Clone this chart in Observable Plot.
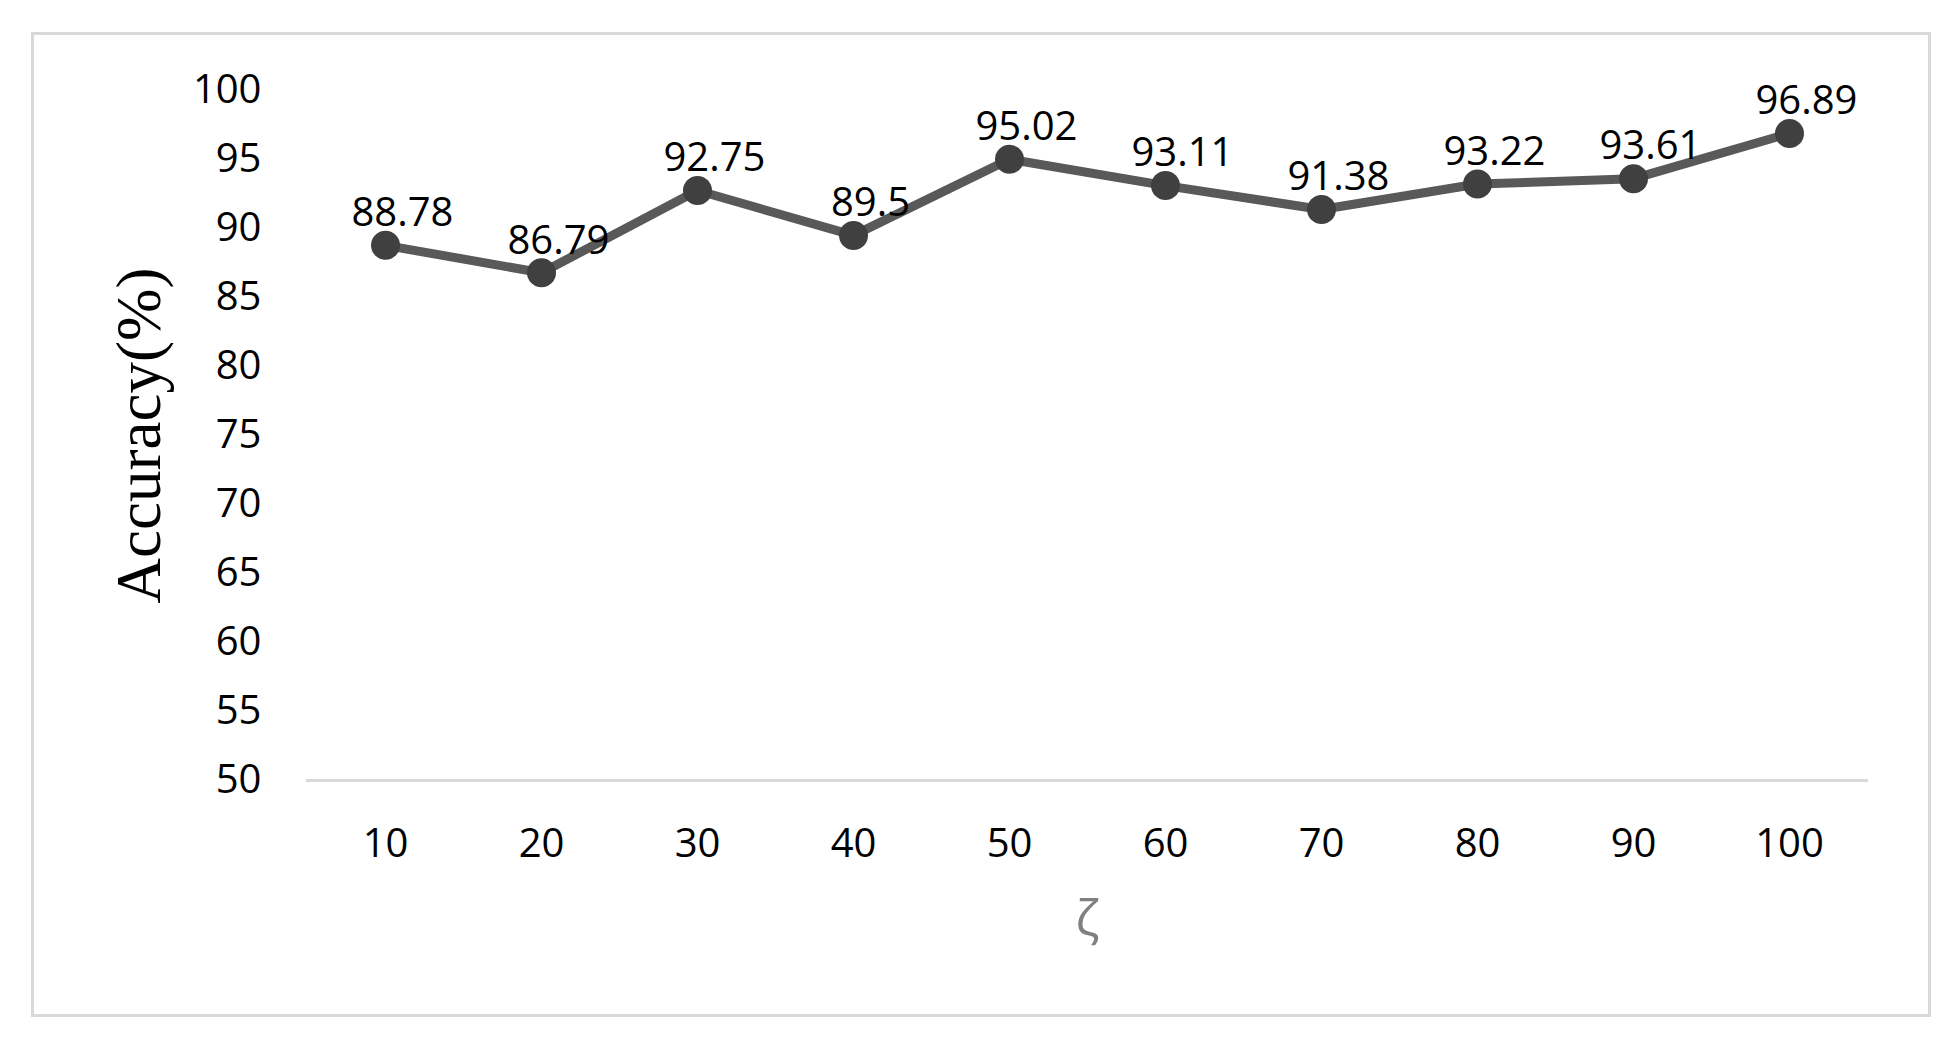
<!DOCTYPE html>
<html>
<head>
<meta charset="utf-8">
<script src="https://cdn.jsdelivr.net/npm/d3@7"></script>
<script src="https://cdn.jsdelivr.net/npm/@observablehq/plot@0.6"></script>
<style>
  html, body { margin: 0; padding: 0; background: #fff; }
  #wrap { position: relative; width: 1957px; height: 1048px; }
  #frame { position: absolute; left: 31px; top: 32px; width: 1894px; height: 979px; border: 3px solid #d9d9d9; pointer-events: none; }
  #chart { position: absolute; left: 0; top: 0; }
</style>
</head>
<body>
<div id="wrap"><div id="chart"></div><div id="frame"></div></div>
<script>
const zeta = [10, 20, 30, 40, 50, 60, 70, 80, 90, 100];
const accuracy = [88.78, 86.79, 92.75, 89.5, 95.02, 93.11, 91.38, 93.22, 93.61, 96.89];
const yTicks = [50, 55, 60, 65, 70, 75, 80, 85, 90, 95, 100];
const yLabel = "Accuracy(%)";
const xLabel = "ζ";

const data = zeta.map((z, i) => ({z, acc: accuracy[i]}));

const chart = Plot.plot({
  width: 1957,
  height: 1048,
  marginLeft: 306,
  marginRight: 89,
  marginTop: 90,
  marginBottom: 268,
  style: {fontFamily: "'Open Sans', sans-serif", background: "transparent", color: "#000"},
  x: {type: "point", domain: zeta, padding: 0.5},
  y: {domain: [50, 100]},
  marks: [
    Plot.ruleY([50], {stroke: "#d9d9d9", strokeWidth: 3}),
    Plot.axisY({ticks: yTicks, tickSize: 0, tickPadding: 45, fontSize: 40, label: null}),
    Plot.axisX({tickSize: 0, tickPadding: 48, fontSize: 40, label: null}),
    Plot.line(data, {x: "z", y: "acc", stroke: "#595959", strokeWidth: 9}),
    Plot.dot(data, {x: "z", y: "acc", r: 14.5, fill: "#404040", stroke: "none"}),
    Plot.text(data, {x: "z", y: "acc", text: d => String(d.acc), dx: 17, dy: -32, fontSize: 40, fill: "#000"}),
    Plot.text([yLabel], {frameAnchor: "left", textAnchor: "middle", lineAnchor: "middle", dx: -167, rotate: -90, fontSize: 63, fontFamily: "'Liberation Serif', serif", fill: "#000"}),
    Plot.text([xLabel], {frameAnchor: "bottom", textAnchor: "middle", dy: 155, fontSize: 50, fill: "#808080"})
  ]
});
document.getElementById("chart").appendChild(chart);
</script>
</body>
</html>
